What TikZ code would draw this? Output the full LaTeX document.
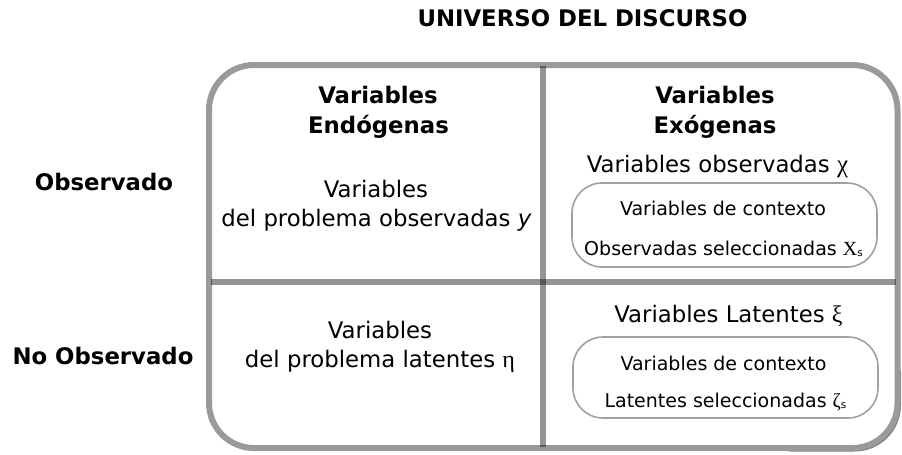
\documentclass[tikz,border=0pt]{standalone}
\usepackage{fontspec}
\setmainfont{DejaVu Sans}
\newfontfamily\grk{Liberation Serif}
\definecolor{framegray}{HTML}{9A9A9A}
\definecolor{shadowgray}{HTML}{808080}
\definecolor{boxgray}{HTML}{A0A0A0}
\newcommand{\subs}[1]{\raisebox{-1.5pt}{\fontsize{10.5}{11}\selectfont #1}}
\tikzset{
  frame/.style={draw=framegray, line width=6pt, rounded corners=45pt},
  framesh/.style={draw=shadowgray, line width=5pt, rounded corners=44pt, line cap=round},
  divider/.style={draw=black, draw opacity=0.42, line width=5.5pt},
  inbox/.style={draw=boxgray, line width=1.6pt, rounded corners=30pt, minimum width=305pt, inner sep=0pt},
  lbl/.style={font=\fontsize{22.8}{30}\selectfont, inner sep=0pt, anchor=base},
  blbl/.style={font=\fontsize{22.8}{30}\selectfont\bfseries, inner sep=0pt, anchor=base},
  slbl/.style={font=\fontsize{19}{24}\selectfont, inner sep=0pt, anchor=base},
}
\begin{document}
\begin{tikzpicture}[x=1pt,y=-1pt]
\useasboundingbox (0,0) rectangle (902,455);
% shadow on bottom-right
\draw[framesh] (898.5,372) -- (898.5,449) -- (790,449);
% outer frame
\draw[frame] (209,65) rectangle (897.5,448);
% dividers
\coordinate (vt) at (543,66);
\coordinate (vb) at (543,447);
\coordinate (hl) at (211,282);
\coordinate (hr) at (896,282);
\draw[divider] (vt) -- (vb);
\draw[divider] (hl) -- (hr);
% title
\node[blbl] (title) at (582.5,26) {UNIVERSO DEL DISCURSO};
% row labels
\node[blbl] (obs) at (104,190) {Observado};
\node[blbl] (nobs) at (103,364) {No Observado};
% column heads
\node[blbl] (endo1) at (378,103) {Variables};
\node[blbl] (endo2) at (378.5,133) {Endógenas};
\node[blbl] (exo1) at (715,103) {Variables};
\node[blbl] (exo2) at (715,133) {Exógenas};
% top-left cell
\node[lbl] (tl1) at (376,197) {Variables};
\node[lbl] (tl2) at (376.5,226) {del problema observadas \textit{y}};
% bottom-left cell
\node[lbl] (bl1) at (380,338) {Variables};
\node[lbl] (bl2) at (380,367) {del problema latentes {\grk\fontsize{24}{30}\selectfont η}};
% top-right cell
\node[lbl] (tr) at (717.5,172) {Variables observadas {\grk\fontsize{25}{30}\selectfont χ}};
\node[inbox, minimum height=84pt] (box1) at (724.5,225) {};
\node[slbl] (b1a) at (723,215) {Variables de contexto};
\node[slbl] (b1b) at (723.5,255) {Observadas seleccionadas {\grk\fontsize{20}{24}\selectfont Χ}\subs{s}};
% bottom-right cell
\node[lbl] (br) at (728.5,322) {Variables Latentes {\grk\fontsize{24}{30}\selectfont ξ}};
\node[inbox, minimum height=81pt] (box2) at (725.5,377.5) {};
\node[slbl] (b2a) at (723.5,370) {Variables de contexto};
\node[slbl] (b2b) at (725.5,407) {Latentes seleccionadas {\grk\fontsize{20}{24}\selectfont ζ}\subs{s}};
\end{tikzpicture}
\end{document}
